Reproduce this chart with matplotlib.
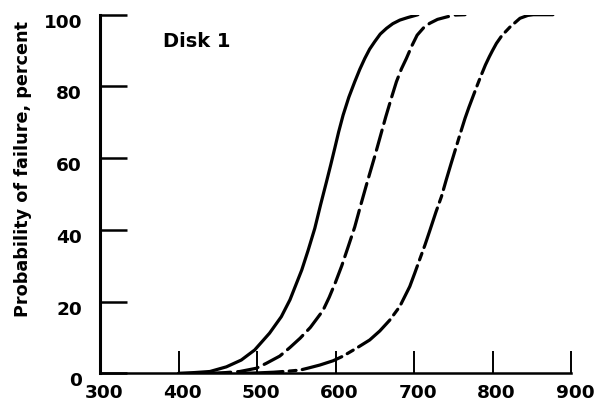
import matplotlib
matplotlib.use("Agg")
import matplotlib.pyplot as plt
import matplotlib.transforms as mtransforms

plt.rcParams['font.family'] = ['DejaVu Sans']
plt.rcParams['font.weight'] = 'bold'
plt.rcParams['lines.scale_dashes'] = False

# Data (temperature vs. probability of failure, %)
temp_solid = [400, 420, 440, 461, 480, 497, 516, 531, 542, 557, 565, 573.6, 581, 588.5, 594, 599, 604,
              609.7, 617, 624.5, 631, 637.3, 643.5, 650, 657, 665, 673, 682, 692, 705]
fail_solid = [0, 0.2, 0.5, 1.8, 3.7, 6.5, 11.2, 15.8, 20.5, 28.8, 34.2, 40.4, 47.0, 53.4, 58.2, 62.7, 67.3,
              72.0, 77.0, 81.3, 84.8, 87.8, 90.4, 92.5, 94.6, 96.2, 97.5, 98.5, 99.2, 100]

temp_dashed = [440, 460, 478, 499, 512, 529, 542, 555, 568, 584, 592, 600, 608, 616, 624.5, 632, 640, 646,
               650, 657, 664, 671.5, 677.6, 684, 690.3, 697, 704, 712, 720, 730, 742, 752, 765]
fail_dashed = [0, 0.2, 0.5, 1.4, 2.8, 4.8, 7.2, 9.8, 12.8, 17.5, 21.2, 25.4, 30.0, 35.2, 40.8, 46.8, 53.0, 57.5,
               60.5, 66.0, 71.5, 77.0, 81.3, 84.9, 87.8, 91.2, 94.3, 96.3, 97.6, 98.7, 99.4, 99.9, 100]

temp_dashdot = [480, 500, 521, 540, 555, 566, 580, 597, 609.7, 626.7, 643.6, 656.4, 669, 681.8, 694.6, 700.9,
                707, 714, 720, 728, 735, 741, 747, 753, 759, 765, 770, 775, 780, 785, 791, 796, 800, 805, 812,
                822, 835, 845, 852, 877]
fail_dashdot = [0, 0.1, 0.3, 0.6, 0.9, 1.5, 2.3, 3.5, 4.8, 7.0, 9.3, 11.8, 14.8, 18.6, 24.2, 27.9,
                31.6, 35.8, 39.7, 45.0, 49.3, 53.9, 58.3, 62.6, 66.9, 71.1, 74.2, 77.1, 80.0, 82.8, 86.0, 88.3, 90.0, 92.0, 94.2,
                96.5, 99.0, 99.8, 100, 100]

x_ticks = [300, 400, 500, 600, 700, 800, 900]
y_ticks = [0, 20, 40, 60, 80, 100]

fig = plt.figure(figsize=(5.96, 4.04), dpi=100)
ax = fig.add_axes([100/596, 1 - 373.3/404, 471/596, 358.6/404])

ax.plot(temp_solid, fail_solid, color='black', lw=2.3, solid_capstyle='round', solid_joinstyle='round')
ax.plot(temp_dashed, fail_dashed, color='black', lw=2.3, dashes=(15, 5), dash_capstyle='round', dash_joinstyle='round')
ax.plot(temp_dashdot, fail_dashdot, color='black', lw=2.3, dashes=(30, 4.5, 5, 4.5), dash_capstyle='round', dash_joinstyle='round')

ax.set_xlim(300, 900)
ax.set_ylim(0, 100)
ax.set_xticks(x_ticks)
ax.set_yticks(y_ticks)
ax.set_xticklabels([str(v) for v in x_ticks])
ax.set_yticklabels([str(v) for v in y_ticks])

for s in ['top', 'right']:
    ax.spines[s].set_visible(False)
ax.spines['left'].set_linewidth(2.2)
ax.spines['bottom'].set_linewidth(1.8)

ax.tick_params(axis='x', direction='in', length=15.5, width=1.4, labelsize=13.3, pad=8)
ax.tick_params(axis='y', direction='in', length=19.5, width=1.8, labelsize=13.3, pad=13)

# small label offsets seen in the reference
dx = mtransforms.ScaledTranslation(4/100, 0, fig.dpi_scale_trans)
for lbl in ax.get_xticklabels():
    lbl.set_transform(lbl.get_transform() + dx)
dy = mtransforms.ScaledTranslation(0, -6/100, fig.dpi_scale_trans)
for lbl in ax.get_yticklabels():
    lbl.set_transform(lbl.get_transform() + dy)

ax.set_ylabel('Probability of failure, percent', fontsize=12.7, fontweight='bold')
ax.yaxis.set_label_coords(-0.144, 0.57)

ax.text(380, 92.5, 'Disk 1', fontsize=14, fontweight='bold', ha='left', va='center')

fig.savefig('out.png', dpi=100)
